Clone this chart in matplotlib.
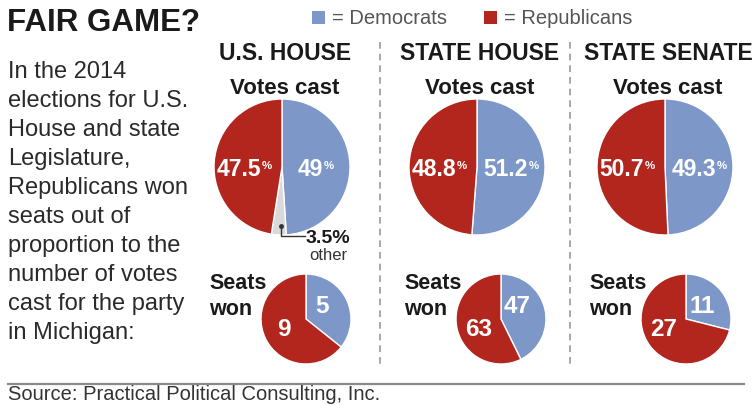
import matplotlib
matplotlib.use("Agg")
import matplotlib.pyplot as plt
from matplotlib.patches import Rectangle

races = ["U.S. HOUSE", "STATE HOUSE", "STATE SENATE"]
vote_dem = [49.0, 51.2, 49.3]
vote_other = [3.5, 0.0, 0.0]
vote_rep = [47.5, 48.8, 50.7]
seats_dem = [5, 47, 11]
seats_rep = [9, 63, 27]

title = "FAIR GAME?"
intro = ["In the 2014", "elections for U.S.", "House and state",
         "Legislature,", "Republicans won", "seats out of",
         "proportion to the", "number of votes", "cast for the party",
         "in Michigan:"]
legend_items = ["= Democrats", "= Republicans"]
source = "Source: Practical Political Consulting, Inc."

# ---- styling ----
BLUE = "#7d97c9"
RED = "#b3261e"
OTHER = "#d9d9d9"
INK = "#1a1a1a"
SANS = ["Liberation Sans", "DejaVu Sans"]
NARROW = ["Liberation Sans Narrow", "Liberation Sans", "DejaVu Sans"]

W, H = 754, 406
fig = plt.figure(figsize=(W / 100, H / 100), dpi=100)
ax = fig.add_axes([0, 0, 1, 1])

col_x = [282, 477, 665]      # centres of the three columns (px)
vote_y, vote_r = 168, 68
seat_x = [306, 501, 686]
seat_y, seat_r = 320, 45


def txt(x, y, s, **kw):
    # y measured from the top of the picture, in pixels
    return ax.text(x, H - y, s, **kw)


def num_label(x, y, s, size, pct=False):
    t = txt(x, y, s, ha="center", va="center", color="white",
            fontsize=size, fontweight="bold", family=NARROW)
    if pct:
        ax.annotate("%", xy=(1, 0.9), xycoords=t, xytext=(0.5, 0),
                    textcoords="offset points", ha="left", va="top",
                    color="white", fontsize=size * 0.5, fontweight="bold",
                    family=NARROW)
    return t


for i, race in enumerate(races):
    # votes cast
    vals, cols = [], []
    for v, c in zip([vote_dem[i], vote_other[i], vote_rep[i]], [BLUE, OTHER, RED]):
        if v > 0:
            vals.append(v)
            cols.append(c)
    ax.pie(vals, colors=cols, startangle=90, counterclock=False,
           center=(col_x[i], H - vote_y), radius=vote_r,
           wedgeprops=dict(edgecolor="white", linewidth=1.0))
    num_label(col_x[i] - 0.64 * vote_r, vote_y + 2, "%g" % vote_rep[i], 16.5, pct=True)
    num_label(col_x[i] + 0.42 * vote_r, vote_y + 2, "%g" % vote_dem[i], 16.5, pct=True)

    # seats won
    ax.pie([seats_dem[i], seats_rep[i]], colors=[BLUE, RED], startangle=90,
           counterclock=False, center=(seat_x[i], H - seat_y), radius=seat_r,
           wedgeprops=dict(edgecolor="white", linewidth=1.0))
    num_label(seat_x[i] + 0.36 * seat_r, seat_y - 0.31 * seat_r, str(seats_dem[i]), 17.5)
    num_label(seat_x[i] - 0.49 * seat_r, seat_y + 0.22 * seat_r, str(seats_rep[i]), 17.5)

    # headings
    txt(col_x[i] + 3, 54, race, ha="center", va="center", color=INK,
        fontsize=16.5, fontweight="bold", family=SANS)
    txt(col_x[i] + 3, 88, "Votes cast", ha="center", va="center", color=INK,
        fontsize=16, fontweight="bold", family=SANS)
    txt(seat_x[i] - 97, 284, "Seats", ha="left", va="center", color=INK,
        fontsize=15.5, fontweight="bold", family=SANS)
    txt(seat_x[i] - 97, 310, "won", ha="left", va="center", color=INK,
        fontsize=15.5, fontweight="bold", family=SANS)

# "other" call-out on the U.S. House pie
ax.plot([281, 281, 305], [H - 227, H - 237, H - 237], color="#333333", lw=1)
ax.plot([281], [H - 227], "o", ms=2.5, color="#333333")
txt(328, 239, "%g%%" % vote_other[0], ha="center", va="center", color=INK,
    fontsize=14, fontweight="bold", family=NARROW)
txt(328, 256, "other", ha="center", va="center", color="#333333",
    fontsize=12, family=NARROW)

# title and intro text
txt(7, 23, title, ha="left", va="center", color=INK, fontsize=22.5,
    fontweight="bold", family=NARROW)
for k, line in enumerate(intro):
    txt(8, 78 + 29 * k, line, ha="left", va="baseline", color="#2a2a2a",
        fontsize=17, family=SANS)

# legend
for (x0, c), lab in zip([(312, BLUE), (484, RED)], legend_items):
    ax.add_patch(Rectangle((x0, H - 25), 13, 13, color=c, lw=0))
    txt(x0 + 20, 19, lab, ha="left", va="center", color="#555555",
        fontsize=14.5, family=SANS)

# dashed column separators
for x in [380, 570]:
    ax.plot([x, x], [H - 43, H - 366], color="#999999", lw=1.2, dashes=(4, 3))

# rule and source
ax.plot([8, 744], [H - 385, H - 385], color="#8a8a8a", lw=1.6)
txt(8, 400, source, ha="left", va="baseline", color="#333333",
    fontsize=14.5, family=SANS)

ax.set_xlim(0, W)
ax.set_ylim(0, H)
ax.set_aspect("auto")
ax.axis("off")

fig.savefig("out.png", dpi=100)
